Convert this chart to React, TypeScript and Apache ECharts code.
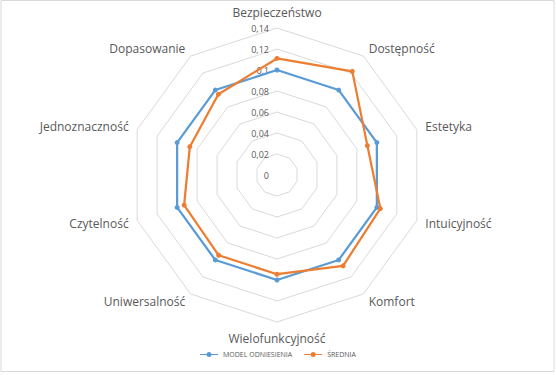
import React, { useEffect, useRef } from "react";
import * as echarts from "echarts";

// Indicators listed clockwise from the top (as in the reference)
const indicators = [
  "Bezpieczeństwo",
  "Dostępność",
  "Estetyka",
  "Intuicyjność",
  "Komfort",
  "Wielofunkcyjność",
  "Uniwersalność",
  "Czytelność",
  "Jednoznaczność",
  "Dopasowanie",
];
const modelValues = [0.1, 0.1, 0.1, 0.1, 0.1, 0.1, 0.1, 0.1, 0.1, 0.1];
const sredniaValues = [0.111, 0.122, 0.0905, 0.1035, 0.107, 0.0945, 0.0945, 0.093, 0.0873, 0.095];
const seriesNames = ["MODEL ODNIESIENIA", "ŚREDNIA"];
const tickValues = [0, 0.02, 0.04, 0.06, 0.08, 0.1, 0.12, 0.14];

const AXIS_MAX = 0.14;
const COLORS = ["#5B9BD5", "#ED7D31"];
const TEXT = "#595959";
const FONT = "'Open Sans', 'Noto Sans', sans-serif";

// ECharts lays radar indicators out counter-clockwise; reorder to get clockwise.
const ccw = (arr: any[]) => [arr[0], ...arr.slice(1).reverse()];

const legendIcon =
  "path://M0,2.4 L18,2.4 L18,3.6 L0,3.6 Z M11.5,3 A2.5,2.5 0 1,1 6.5,3 A2.5,2.5 0 1,1 11.5,3 Z";

export default function App() {
  const ref = useRef<HTMLDivElement>(null);
  useEffect(() => {
    const chart = echarts.init(ref.current!, undefined, { renderer: "svg" });
    chart.setOption({
      animation: false,
      backgroundColor: "#ffffff",
      textStyle: { fontFamily: FONT },
      graphic: [
        {
          type: "rect",
          shape: { x: 1, y: 0.5, width: 553, height: 371 },
          style: { fill: "none", stroke: "#d9d9d9", lineWidth: 1 },
          silent: true,
        },
      ],
      legend: {
        bottom: 12,
        left: "center",
        itemWidth: 18,
        itemHeight: 6,
        itemGap: 12,
        icon: legendIcon,
        data: seriesNames,
        textStyle: { color: TEXT, fontSize: 7, fontFamily: FONT },
      },
      radar: {
        center: [277, 175],
        radius: 147,
        startAngle: 90,
        splitNumber: 7,
        shape: "polygon",
        nameGap: 9,
        axisName: { color: TEXT, fontSize: 12, fontFamily: FONT, lineHeight: 14 },
        axisLine: { show: false },
        axisTick: { show: false },
        axisLabel: { show: false },
        splitLine: { lineStyle: { color: "#d9d9d9", width: 1 } },
        splitArea: { show: false },
        indicator: ccw(indicators).map((n) => ({ name: n, min: 0, max: AXIS_MAX })),
      },
      grid: { left: 277, top: 28, width: 1, height: 147 },
      xAxis: { type: "value", show: false },
      yAxis: {
        type: "value",
        min: 0,
        max: AXIS_MAX,
        interval: 0.02,
        axisLine: { show: false },
        axisTick: { show: false },
        splitLine: { show: false },
        axisLabel: {
          margin: 8,
          fontSize: 9,
          lineHeight: 10,
          color: TEXT,
          fontFamily: FONT,
          formatter: (v: number) => {
            const t = tickValues.find((x) => Math.abs(x - v) < 1e-9);
            return String(Number((t ?? v).toFixed(2))).replace(".", ",");
          },
        },
      },
      series: [
        {
          type: "radar",
          symbol: "circle",
          symbolSize: 5,
          data: [
            {
              name: seriesNames[0],
              value: ccw(modelValues),
              itemStyle: { color: COLORS[0] },
              lineStyle: { color: COLORS[0], width: 2.25 },
            },
            {
              name: seriesNames[1],
              value: ccw(sredniaValues),
              itemStyle: { color: COLORS[1] },
              lineStyle: { color: COLORS[1], width: 2.25 },
            },
          ],
        },
      ],
    });
    return () => chart.dispose();
  }, []);
  return (
    <div
      ref={ref}
      style={{ position: "fixed", left: 0, top: 0, width: 556, height: 375 }}
    />
  );
}
